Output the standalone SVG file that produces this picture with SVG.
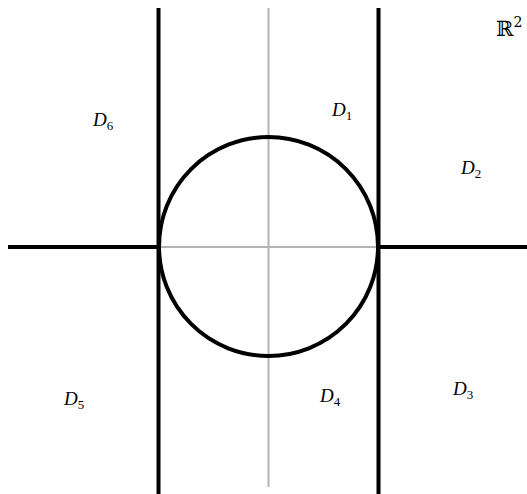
<svg xmlns="http://www.w3.org/2000/svg" width="527" height="494" viewBox="0 0 527 494">
<style>
.blk{stroke:#000;stroke-width:4;fill:none}
.gry{stroke:#b3b3b3;stroke-width:2;fill:none}
.lbl{font-family:"Liberation Serif","DejaVu Serif",serif;font-size:19px;font-style:italic;fill:#000}
.sub{font-style:normal;font-size:13px}
.r{font-family:"DejaVu Serif","Liberation Serif",serif;font-size:21px;fill:#000}
</style>
<rect width="527" height="494" fill="#fff"/>
<g id="connectors">
<line class="gry" x1="268.5" y1="8" x2="268.5" y2="487"/>
<line class="gry" x1="159" y1="247" x2="378" y2="247"/>
<line class="blk" x1="158.5" y1="8" x2="158.5" y2="494"/>
<line class="blk" x1="378.5" y1="8" x2="378.5" y2="494"/>
<line class="blk" x1="8" y1="247" x2="159" y2="247"/>
<line class="blk" x1="378" y1="247" x2="527" y2="247"/>
</g>
<g id="circle"><circle class="blk" cx="268.5" cy="246.5" r="109.5"/></g>
<g id="D1"><text class="lbl" x="332" y="116">D<tspan class="sub" dy="4">1</tspan></text></g>
<g id="D2"><text class="lbl" x="461" y="174">D<tspan class="sub" dy="4">2</tspan></text></g>
<g id="D3"><text class="lbl" x="453" y="395">D<tspan class="sub" dy="4">3</tspan></text></g>
<g id="D4"><text class="lbl" x="320" y="402">D<tspan class="sub" dy="4">4</tspan></text></g>
<g id="D5"><text class="lbl" x="64" y="405">D<tspan class="sub" dy="4">5</tspan></text></g>
<g id="D6"><text class="lbl" x="93" y="126">D<tspan class="sub" dy="4">6</tspan></text></g>
<g id="R2"><text class="r" x="496" y="36">ℝ<tspan font-size="14" dy="-9">2</tspan></text></g>
</svg>
